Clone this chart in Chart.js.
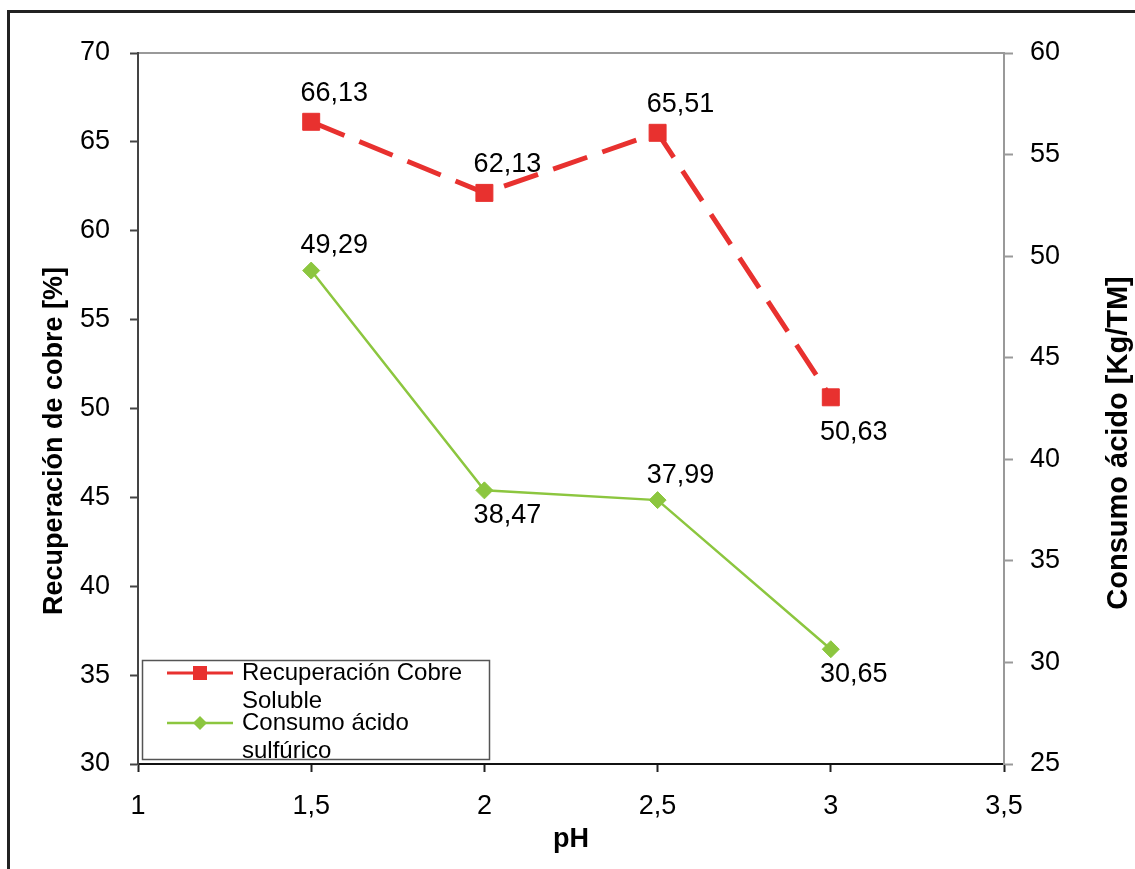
<!DOCTYPE html>
<html>
<head>
<meta charset="utf-8">
<title>Recuperación de cobre vs pH</title>
<script src="https://cdn.jsdelivr.net/npm/chart.js@4.4.0/dist/chart.umd.min.js"></script>
<style>
    html, body { margin: 0; padding: 0; background: #fff; }
    #wrap { width: 1135px; height: 869px; }
</style>
</head>
<body>
<div id="wrap"><canvas id="chart" width="1135" height="869"></canvas></div>
<script>
// Datos del gráfico
const phValues = [1.5, 2, 2.5, 3];
const recuperacionCobre = [66.13, 62.13, 65.51, 50.63];
const consumoAcido = [49.29, 38.47, 37.99, 30.65];

// posición de las etiquetas de datos
const recuperacionLabelPos = ['above', 'above', 'above', 'below'];
const consumoLabelPos = ['above', 'below', 'above', 'below'];

// ejes
const xTicks = [1, 1.5, 2, 2.5, 3, 3.5];
const leftTicks = [30, 35, 40, 45, 50, 55, 60, 65, 70];
const rightTicks = [25, 30, 35, 40, 45, 50, 55, 60];

const legendLines = [['Recuperación Cobre', 'Soluble'], ['Consumo ácido', 'sulfúrico']];
const xTitle = 'pH';
const leftTitle = 'Recuperación de cobre [%]';
const rightTitle = 'Consumo ácido [Kg/TM]';

const FONT = 'Arial, "Liberation Sans", sans-serif';
const RED = '#e8312f';
const GREEN = '#8cc63f';

const fmt = v => String(v).replace('.', ',');
const fmt2 = v => v.toFixed(2).replace('.', ',');

// marco exterior y borde superior del área de trazado
const framePlugin = {
    id: 'frame',
    beforeDraw(chart) {
        const c = chart.ctx;
        const a = chart.chartArea;
        c.save();
        c.strokeStyle = '#222';
        c.lineWidth = 3;
        c.beginPath();
        c.moveTo(1135, 11.5);
        c.lineTo(8.5, 11.5);
        c.lineTo(8.5, 869);
        c.stroke();
        c.strokeStyle = '#999';
        c.lineWidth = 2;
        c.beginPath();
        c.moveTo(a.left, a.top);
        c.lineTo(a.right, a.top);
        c.stroke();
        c.restore();
    }
};

// etiquetas de datos
const dataLabelsPlugin = {
    id: 'dataLabels',
    afterDatasetsDraw(chart) {
        const c = chart.ctx;
        c.save();
        c.font = '27px ' + FONT;
        c.fillStyle = '#000';
        c.textAlign = 'center';
        c.textBaseline = 'middle';
        chart.data.datasets.forEach((ds, i) => {
            const meta = chart.getDatasetMeta(i);
            meta.data.forEach((pt, j) => {
                const pos = ds.labelPos[j];
                const dy = pos === 'above' ? ds.labelDy.above : ds.labelDy.below;
                c.fillText(fmt2(ds.data[j].y), pt.x + 23, pt.y + dy);
            });
        });
        c.restore();
    }
};

// títulos de ejes
const titlesPlugin = {
    id: 'axisTitles',
    afterDraw(chart) {
        const c = chart.ctx;
        const a = chart.chartArea;
        c.save();
        c.fillStyle = '#000';
        c.textAlign = 'center';
        c.textBaseline = 'middle';
        c.font = 'bold 27px ' + FONT;
        c.fillText(xTitle, (a.left + a.right) / 2, 840);

        c.font = 'bold 27px ' + FONT;
        c.translate(55, 441);
        c.rotate(-Math.PI / 2);
        c.fillText(leftTitle, 0, 0);
        c.restore();

        c.save();
        c.fillStyle = '#000';
        c.textAlign = 'center';
        c.textBaseline = 'middle';
        c.font = 'bold 29px ' + FONT;
        c.translate(1119, 443);
        c.rotate(-Math.PI / 2);
        c.fillText(rightTitle, 0, 0);
        c.restore();
    }
};

// leyenda con texto en dos líneas
const legendPlugin = {
    id: 'legendBox',
    afterDraw(chart) {
        const c = chart.ctx;
        c.save();
        c.fillStyle = '#fff';
        c.fillRect(142, 660, 348, 100);
        c.strokeStyle = '#555';
        c.lineWidth = 1.5;
        c.strokeRect(142.5, 660.5, 347, 99);

        chart.data.datasets.forEach((ds, i) => {
            const y = 673 + i * 50;
            c.setLineDash([]);
            c.strokeStyle = ds.borderColor;
            c.lineWidth = i === 0 ? 3 : 2.5;
            c.beginPath();
            c.moveTo(167, y);
            c.lineTo(233, y);
            c.stroke();

            c.fillStyle = ds.borderColor;
            c.beginPath();
            if (ds.pointStyle === 'rect') {
                c.rect(193, y - 7, 14, 14);
            } else {
                c.moveTo(200, y - 7);
                c.lineTo(207, y);
                c.lineTo(200, y + 7);
                c.lineTo(193, y);
                c.closePath();
            }
            c.fill();

            c.fillStyle = '#000';
            c.font = '24px ' + FONT;
            c.textAlign = 'left';
            c.textBaseline = 'middle';
            legendLines[i].forEach((txt, k) => {
                c.fillText(txt, 242, y + k * 28);
            });
        });
        c.restore();
    }
};

const ctx = document.getElementById('chart').getContext('2d');

new Chart(ctx, {
    type: 'line',
    data: {
        datasets: [
            {
                label: legendLines[0].join(' '),
                data: phValues.map((x, i) => ({ x: x, y: recuperacionCobre[i] })),
                yAxisID: 'y',
                borderColor: RED,
                backgroundColor: RED,
                borderWidth: 5,
                borderDash: [36, 16],
                pointStyle: 'rect',
                pointRadius: 12,
                pointBorderWidth: 1,
                pointBackgroundColor: RED,
                pointBorderColor: RED,
                tension: 0,
                labelPos: recuperacionLabelPos,
                labelDy: { above: -28, below: 35 }
            },
            {
                label: legendLines[1].join(' '),
                data: phValues.map((x, i) => ({ x: x, y: consumoAcido[i] })),
                yAxisID: 'y2',
                borderColor: GREEN,
                backgroundColor: GREEN,
                borderWidth: 2.5,
                pointStyle: 'rectRot',
                pointRadius: 8.5,
                pointBorderWidth: 1,
                pointBackgroundColor: GREEN,
                pointBorderColor: GREEN,
                tension: 0,
                labelPos: consumoLabelPos,
                labelDy: { above: -25, below: 25 }
            }
        ]
    },
    options: {
        responsive: false,
        animation: false,
        layout: { padding: { top: 53, left: 0, right: 0, bottom: 0 } },
        plugins: {
            legend: { display: false },
            tooltip: { enabled: false }
        },
        scales: {
            x: {
                type: 'linear',
                min: 1,
                max: 3.5,
                afterBuildTicks: s => { s.ticks = xTicks.map(v => ({ value: v })); },
                afterFit: s => { s.height = 105; },
                grid: { drawOnChartArea: false, drawTicks: true, tickLength: 8, tickColor: '#222', tickWidth: 2 },
                border: { color: '#111', width: 2 },
                ticks: {
                    font: { family: FONT, size: 27 },
                    color: '#000',
                    padding: 18,
                    maxRotation: 0,
                    autoSkip: false,
                    callback: v => fmt(v)
                }
            },
            y: {
                position: 'left',
                min: 30,
                max: 70,
                afterBuildTicks: s => { s.ticks = leftTicks.map(v => ({ value: v })); },
                afterFit: s => { s.width = 138; },
                grid: { drawOnChartArea: false, drawTicks: true, tickLength: 8, tickColor: '#444', tickWidth: 2 },
                border: { color: '#444', width: 2 },
                ticks: {
                    font: { family: FONT, size: 27 },
                    color: '#000',
                    padding: 20,
                    autoSkip: false,
                    callback: v => fmt(v)
                }
            },
            y2: {
                position: 'right',
                min: 25,
                max: 60,
                afterBuildTicks: s => { s.ticks = rightTicks.map(v => ({ value: v })); },
                afterFit: s => { s.width = 131; },
                grid: { drawOnChartArea: false, drawTicks: true, tickLength: 9, tickColor: '#999', tickWidth: 2 },
                border: { color: '#999', width: 2 },
                ticks: {
                    font: { family: FONT, size: 27 },
                    color: '#000',
                    padding: 17,
                    autoSkip: false,
                    callback: v => fmt(v)
                }
            }
        }
    },
    plugins: [framePlugin, dataLabelsPlugin, titlesPlugin, legendPlugin]
});
</script>
</body>
</html>
